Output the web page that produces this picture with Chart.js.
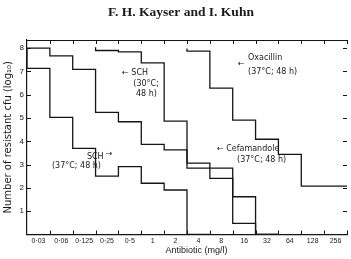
<!DOCTYPE html>
<html lang="en">
    <head>
        <script src="https://cdn.jsdelivr.net/npm/chart.js@4.4.1/dist/chart.umd.min.js"></script>
        <title>Resistant cfu vs antibiotic</title>
        <style>
            body { margin: 0; background: #fff; }
        </style>
    </head>
    <body>
        <canvas id="cfuChart" width="351" height="259"></canvas>

        <script>
            // concentrations (mg/l), one bin each on the x axis
            const concLabels = ['0·03', '0·06', '0·125', '0·25', '0·5', '1', '2', '4', '8', '16', '32', '64', '128', '256'];
            const yTickValues = [1, 2, 3, 4, 5, 6, 7, 8];

            // log10 resistant cfu per bin, null = no value in that bin
            const sch37 = [8, 7.13, 5.03, 3.70, 2.51, 2.91, 2.20, 1.91];
            const sch30 = [8, 8, 7.67, 7.09, 5.24, 4.84, 3.87, 3.63, 2.85, 2.85, 1.62];
            const cefamandole = [null, null, null, 8.04, 7.90, 7.84, 7.37, 4.87, 3.06, 2.41, 0.48];
            const oxacillin = [null, null, null, null, null, null, null, 7.99, 7.87, 6.28, 4.91, 4.09, 3.44, 2.08];

            // turn bin values into points for a step line
            function stepPoints(vals) {
                let pts = [];
                let last = -1;
                vals.forEach((v, i) => {
                    if (v !== null) { pts.push({x: i, y: v}); last = i; }
                });
                if (last < concLabels.length - 1) {
                    pts.push({x: last + 1, y: 0}); // curve falls to the axis
                } else {
                    pts.push({x: last + 1, y: vals[last]});
                }
                return pts;
            }

            // text labels, placed in data units
            const notes = [
                {text: '\u2190 SCH', x: 4.16, y: 6.93},
                {text: '(30°C;', x: 4.65, y: 6.48},
                {text: '48 h)', x: 4.77, y: 6.03},
                {text: 'SCH', x: 2.62, y: 3.33},
                {text: '\u2192', x: 3.45, y: 3.45},
                {text: '(37°C; 48 h)', x: 1.09, y: 2.94},
                {text: '\u2190', x: 9.23, y: 7.32},
                {text: 'Oxacillin', x: 9.67, y: 7.57},
                {text: '(37°C; 48 h)', x: 9.67, y: 6.97},
                {text: '\u2190 Cefamandole', x: 8.31, y: 3.69},
                {text: '(37°C; 48 h)', x: 9.19, y: 3.20},
            ];

            const lineStyle = {
                borderColor: '#151515',
                borderWidth: 1.3,
                pointRadius: 0,
                stepped: 'after',
                fill: false,
            };

            // inward ticks, top border, header, x title and notes
            const frame = {
                id: 'frame',
                afterDraw(chart) {
                    const ctx = chart.ctx;
                    const xs = chart.scales.x, ys = chart.scales.y;
                    const a = chart.chartArea;
                    ctx.save();
                    ctx.strokeStyle = '#151515';
                    ctx.lineWidth = 1;
                    ctx.beginPath();
                    ctx.moveTo(a.left, a.top + 0.5);
                    ctx.lineTo(a.right, a.top + 0.5);
                    for (let k = 1; k <= concLabels.length; k++) {
                        const px = Math.round(xs.getPixelForValue(k)) + 0.5;
                        ctx.moveTo(px, a.bottom);
                        ctx.lineTo(px, a.bottom - 4);
                        ctx.moveTo(px, a.top);
                        ctx.lineTo(px, a.top + 4);
                    }
                    yTickValues.forEach(v => {
                        const py = Math.round(ys.getPixelForValue(v)) + 0.5;
                        ctx.moveTo(a.left, py);
                        ctx.lineTo(a.left + 4, py);
                        ctx.moveTo(a.right, py);
                        ctx.lineTo(a.right - 4, py);
                    });
                    ctx.stroke();

                    ctx.fillStyle = '#1a1a1a';
                    ctx.font = 'bold 13.5px "Liberation Serif"';
                    ctx.textAlign = 'center';
                    ctx.textBaseline = 'middle';
                    ctx.fillText('F. H. Kayser and I. Kuhn', 181, 13);

                    ctx.font = '9px "Liberation Sans"';
                    ctx.fillText('Antibiotic (mg/l)', a.left + (a.right - a.left) * 0.53, 251);

                    ctx.font = '8px "DejaVu Sans"';
                    ctx.textAlign = 'left';
                    notes.forEach(n => {
                        ctx.fillText(n.text, xs.getPixelForValue(n.x), ys.getPixelForValue(n.y));
                    });
                    ctx.restore();
                }
            };

            let cfuChart = new Chart(document.getElementById('cfuChart').getContext('2d'), {
                type: 'line',
                plugins: [frame],
                data: {
                    datasets: [
                        {label: 'SCH 37°C', data: stepPoints(sch37), ...lineStyle},
                        {label: 'SCH 30°C', data: stepPoints(sch30), ...lineStyle},
                        {label: 'Cefamandole', data: stepPoints(cefamandole), ...lineStyle},
                        {label: 'Oxacillin', data: stepPoints(oxacillin), ...lineStyle},
                    ]
                },
                options: {
                    responsive: false,
                    animation: false,
                    layout: {padding: {top: 40, right: 4, left: 0, bottom: 0}},
                    plugins: {
                        legend: {display: false},
                        tooltip: {enabled: false},
                    },
                    scales: {
                        x: {
                            type: 'linear',
                            min: 0,
                            max: concLabels.length,
                            afterBuildTicks: (scale) => {
                                scale.ticks = concLabels.map((l, i) => ({value: i + 0.5}));
                            },
                            afterFit: (scale) => { scale.height = 24.5; },
                            grid: {display: false, drawTicks: false},
                            border: {display: true, color: '#151515', width: 1.2},
                            ticks: {
                                color: '#1a1a1a',
                                padding: 2,
                                maxRotation: 0,
                                autoSkip: false,
                                font: {family: 'Liberation Sans', size: 7},
                                callback: (v) => concLabels[Math.floor(v)],
                            },
                        },
                        y: {
                            min: 0,
                            max: 8.35,
                            afterBuildTicks: (scale) => {
                                scale.ticks = yTickValues.map(v => ({value: v}));
                            },
                            afterFit: (scale) => { scale.width = 27; },
                            grid: {display: false, drawTicks: false},
                            border: {display: true, color: '#151515', width: 1.2},
                            ticks: {
                                color: '#1a1a1a',
                                padding: 3,
                                font: {family: 'Liberation Sans', size: 8},
                            },
                            title: {
                                display: true,
                                text: 'Number of resistant cfu (log\u2081\u2080)',
                                color: '#1a1a1a',
                                font: {family: 'DejaVu Sans', size: 10},
                                padding: {top: 2, bottom: 0},
                            },
                        },
                    },
                },
            });
        </script>
    </body>
</html>
